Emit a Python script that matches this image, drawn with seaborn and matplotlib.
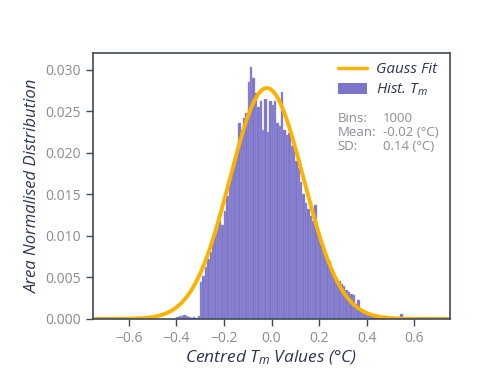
import numpy as np
import pandas as pd
import matplotlib
matplotlib.use("Agg")
import matplotlib.pyplot as plt
import seaborn as sns
from matplotlib.lines import Line2D
from matplotlib.patches import Patch

# histogram: bin width 0.01, left edges from -0.40
bin_left = np.round(np.arange(-0.40, 0.60, 0.01), 3)
heights = [
    0.0002, 0.0004, 0.0003, 0.0005, 0.0003, 0.0002, 0.0001, 0.0002, 0.0001, 0.0003,
    0.0045, 0.0052, 0.0062, 0.0072, 0.0080, 0.0092, 0.0102, 0.0112, 0.0118, 0.0113,
    0.0130, 0.0148, 0.0165, 0.0178, 0.0190, 0.0205, 0.0236, 0.0228, 0.0242, 0.0248,
    0.0285, 0.0303, 0.0290, 0.0272, 0.0255, 0.0262, 0.0228, 0.0265, 0.0225, 0.0262,
    0.0258, 0.0262, 0.0236, 0.0232, 0.0273, 0.0228, 0.0222, 0.0224, 0.0208, 0.0210,
    0.0190, 0.0182, 0.0165, 0.0150, 0.0140, 0.0132, 0.0124, 0.0118, 0.0137, 0.0102,
    0.0095, 0.0085, 0.0078, 0.0072, 0.0070, 0.0058, 0.0052, 0.0049, 0.0046, 0.0042,
    0.0040, 0.0035, 0.0033, 0.0030, 0.0029, 0.0018, 0.0023, 0.0012, 0.0008, 0.0009,
    0.0007, 0.0006, 0.0005, 0.0004, 0.0005, 0.0003, 0.0002, 0.0003, 0.0002, 0.0001,
    0.0002, 0.0001, 0.0001, 0.0002, 0.0006, 0.0001, 0.0001, 0.0000, 0.0001, 0.0000,
]
bin_width = 0.01

# gauss fit as drawn
fit_mean = -0.02
fit_sd = 0.155
fit_peak = 0.0278
stat_labels = ["Bins:", "Mean:", "SD:"]
stat_values = ["1000", "-0.02 (°C)", "0.14 (°C)"]

sns.set_style("white")
plt.rcParams["font.family"] = ["Open Sans", "DejaVu Sans"]
plt.rcParams["mathtext.fontset"] = "custom"
plt.rcParams["mathtext.it"] = "Open Sans:italic"
plt.rcParams["mathtext.rm"] = "Open Sans"

navy = "#2b3651"
grey = "#8b8b97"
spine = "#3e4a5c"

fig = plt.figure(figsize=(4.81, 3.88), dpi=100)
ax = fig.add_axes([0.193, 0.178, 0.743, 0.685])

hist_df = pd.DataFrame({"centre": bin_left + bin_width / 2, "height": heights})
sns.histplot(data=hist_df, x="centre", weights="height", binwidth=bin_width,
             binrange=(-0.40, 0.60), ax=ax,
             color="#7b74c9", edgecolor="#a29dde", linewidth=0.3, alpha=1)

xs = np.linspace(-0.75, 0.75, 600)
ys = fit_peak * np.exp(-(xs - fit_mean) ** 2 / (2 * fit_sd ** 2))
sns.lineplot(x=xs, y=ys, ax=ax, color="#fbb300", linewidth=2.8)

ax.set_xlim(-0.75, 0.75)
ax.set_ylim(0, 0.032)
ax.set_xticks([-0.6, -0.4, -0.2, 0.0, 0.2, 0.4, 0.6])
ax.set_xticklabels(["\u22120.6", "\u22120.4", "\u22120.2", "0.0", "0.2", "0.4", "0.6"])
ax.set_yticks(np.arange(0, 0.0301, 0.005))
ax.set_yticklabels([f"{v:.3f}" for v in np.arange(0, 0.0301, 0.005)])
ax.tick_params(axis="both", direction="out", length=5, width=1, color=spine,
               labelcolor=grey, labelsize=10, bottom=True, left=True)
for s in ax.spines.values():
    s.set_color(spine)
    s.set_linewidth(1.2)

ax.set_xlabel("Centred $T_m$ Values (°C)", fontsize=12.5, style="italic", color=navy, labelpad=2)
ax.set_ylabel("Area Normalised Distribution", fontsize=12, style="italic", color=navy, labelpad=3)

handles = [Line2D([], [], color="#fbb300", lw=2.5),
           Patch(facecolor="#7b74c9", edgecolor="none")]
leg = ax.legend(handles, ["Gauss Fit", "Hist. $T_m$"], loc="upper right", frameon=False,
                prop={"style": "italic", "size": 11}, handlelength=1.9, handletextpad=0.6,
                borderaxespad=0.2, labelspacing=0.3, bbox_to_anchor=(0.99, 1.0))
for t in leg.get_texts():
    t.set_color(navy)

for i, (lab, val) in enumerate(zip(stat_labels, stat_values)):
    y = 0.755 - i * 0.053
    ax.text(0.685, y, lab, transform=ax.transAxes, fontsize=9.5, color=grey, va="center")
    ax.text(0.812, y, val, transform=ax.transAxes, fontsize=9.5, color=grey, va="center")

fig.savefig("out.png", dpi=100)
